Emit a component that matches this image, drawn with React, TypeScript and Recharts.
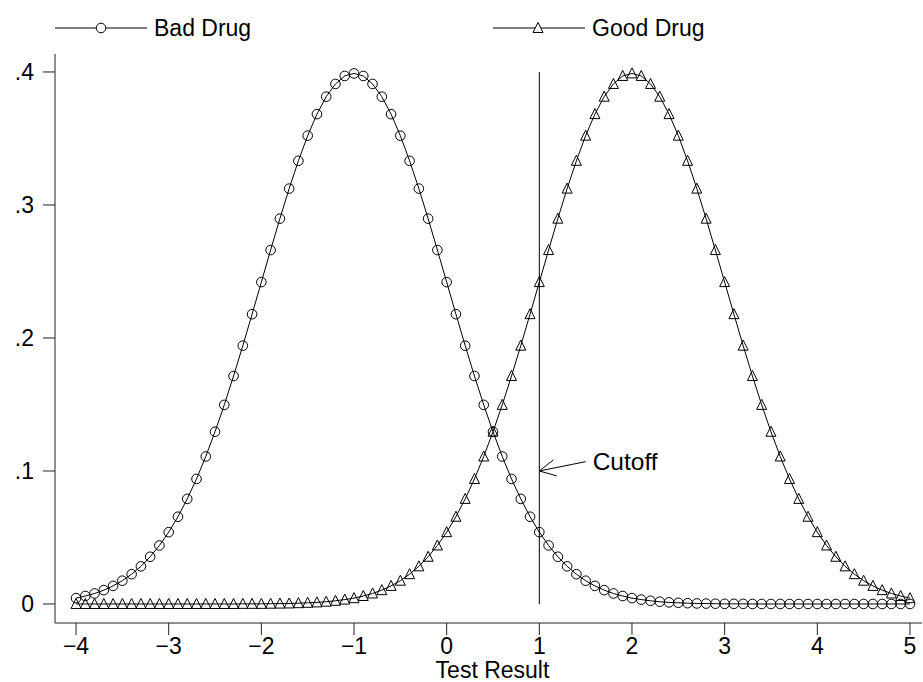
import { Line, LineChart, ReferenceLine, XAxis, YAxis } from 'recharts';

const FONT = '"Liberation Sans", Arial, Helvetica, sans-serif';

const testResults = [
  -4, -3.9, -3.8, -3.7, -3.6, -3.5, -3.4, -3.3, -3.2, -3.1,
  -3, -2.9, -2.8, -2.7, -2.6, -2.5, -2.4, -2.3, -2.2, -2.1,
  -2, -1.9, -1.8, -1.7, -1.6, -1.5, -1.4, -1.3, -1.2, -1.1,
  -1, -0.9, -0.8, -0.7, -0.6, -0.5, -0.4, -0.3, -0.2, -0.1,
  0, 0.1, 0.2, 0.3, 0.4, 0.5, 0.6, 0.7, 0.8, 0.9,
  1, 1.1, 1.2, 1.3, 1.4, 1.5, 1.6, 1.7, 1.8, 1.9,
  2, 2.1, 2.2, 2.3, 2.4, 2.5, 2.6, 2.7, 2.8, 2.9,
  3, 3.1, 3.2, 3.3, 3.4, 3.5, 3.6, 3.7, 3.8, 3.9,
  4, 4.1, 4.2, 4.3, 4.4, 4.5, 4.6, 4.7, 4.8, 4.9,
  5,
];

const badDrug = [
  0.0044, 0.006, 0.0079, 0.0104, 0.0136, 0.0175, 0.0224, 0.0283, 0.0355, 0.044,
  0.054, 0.0656, 0.079, 0.094, 0.1109, 0.1295, 0.1497, 0.1714, 0.1942, 0.2179,
  0.242, 0.2661, 0.2897, 0.3123, 0.3332, 0.3521, 0.3683, 0.3814, 0.391, 0.397,
  0.3989, 0.397, 0.391, 0.3814, 0.3683, 0.3521, 0.3332, 0.3123, 0.2897, 0.2661,
  0.242, 0.2179, 0.1942, 0.1714, 0.1497, 0.1295, 0.1109, 0.094, 0.079, 0.0656,
  0.054, 0.044, 0.0355, 0.0283, 0.0224, 0.0175, 0.0136, 0.0104, 0.0079, 0.006,
  0.0044, 0.0033, 0.0024, 0.0017, 0.0012, 0.0009, 0.0006, 0.0004, 0.0003, 0.0002,
  0.0001, 0.0001, 0.0001, 0, 0, 0, 0, 0, 0, 0,
  0, 0, 0, 0, 0, 0, 0, 0, 0, 0,
  0,
];

const goodDrug = [
  0, 0, 0, 0, 0, 0, 0, 0, 0, 0,
  0, 0, 0, 0, 0, 0, 0, 0, 0.0001, 0.0001,
  0.0001, 0.0002, 0.0003, 0.0004, 0.0006, 0.0009, 0.0012, 0.0017, 0.0024, 0.0033,
  0.0044, 0.006, 0.0079, 0.0104, 0.0136, 0.0175, 0.0224, 0.0283, 0.0355, 0.044,
  0.054, 0.0656, 0.079, 0.094, 0.1109, 0.1295, 0.1497, 0.1714, 0.1942, 0.2179,
  0.242, 0.2661, 0.2897, 0.3123, 0.3332, 0.3521, 0.3683, 0.3814, 0.391, 0.397,
  0.3989, 0.397, 0.391, 0.3814, 0.3683, 0.3521, 0.3332, 0.3123, 0.2897, 0.2661,
  0.242, 0.2179, 0.1942, 0.1714, 0.1497, 0.1295, 0.1109, 0.094, 0.079, 0.0656,
  0.054, 0.044, 0.0355, 0.0283, 0.0224, 0.0175, 0.0136, 0.0104, 0.0079, 0.006,
  0.0044,
];

const xTicks = [-4, -3, -2, -1, 0, 1, 2, 3, 4, 5];
const yTicks = [0, 0.1, 0.2, 0.3, 0.4];

const cutoff = 1;
const cutoffTop = 0.4;
const cutoffLabel = 'Cutoff';
const arrowFrom = { x: 1.5, y: 0.107 };
const arrowTo = { x: 1, y: 0.1 };

const data = testResults.map((x, i) => ({ x, bad: badDrug[i], good: goodDrug[i] }));

const AXIS = '#222';
const FS = 23;

function CircleDot(props: any) {
  const { cx, cy, index } = props;
  if (cx == null || cy == null) return null;
  return <circle key={`c${index}`} cx={cx} cy={cy} r={4.8} fill="none" stroke="#000" strokeWidth={1} />;
}

function TriangleDot(props: any) {
  const { cx, cy, index } = props;
  if (cx == null || cy == null) return null;
  const pts = `${cx},${cy - 5.5} ${cx + 5},${cy + 4.5} ${cx - 5},${cy + 4.5}`;
  return <polygon key={`t${index}`} points={pts} fill="none" stroke="#000" strokeWidth={1} />;
}

// shaft + open arrowhead at the cutoff line, label sits past the tail
function ArrowShape(props: any) {
  const { x1, y1, x2, y2 } = props;
  if ([x1, y1, x2, y2].some((v) => v == null || Number.isNaN(v))) return <g />;
  const ang = Math.atan2(y1 - y2, x1 - x2);
  const len = 18;
  const spread = (27 * Math.PI) / 180;
  const hx1 = x2 + len * Math.cos(ang - spread);
  const hy1 = y2 + len * Math.sin(ang - spread);
  const hx2 = x2 + len * Math.cos(ang + spread);
  const hy2 = y2 + len * Math.sin(ang + spread);
  return (
    <g>
      <line x1={x1} y1={y1} x2={x2} y2={y2} stroke="#000" strokeWidth={1} />
      <line x1={x2} y1={y2} x2={hx1} y2={hy1} stroke="#000" strokeWidth={1} />
      <line x1={x2} y1={y2} x2={hx2} y2={hy2} stroke="#000" strokeWidth={1} />
      <text x={x1 + 7} y={y1} dominantBaseline="central" fontSize={24.5} fill="#000" fontFamily={FONT}>
        {cutoffLabel}
      </text>
    </g>
  );
}

const legendItems = [
  { name: 'Bad Drug', left: 55, kind: 'circle' },
  { name: 'Good Drug', left: 493, kind: 'triangle' },
];

function ChartLegend() {
  return (
    <div style={{ position: 'absolute', left: 0, top: 0, width: 923, height: 54 }}>
      {legendItems.map((it) => (
        <div key={it.name} style={{ position: 'absolute', left: it.left, top: 14, display: 'flex', alignItems: 'center' }}>
          <svg width={92} height={28} style={{ display: 'block' }}>
            <line x1={0} y1={14} x2={92} y2={14} stroke="#000" strokeWidth={1} />
            {it.kind === 'circle' ? (
              <circle cx={46} cy={14} r={4.8} fill="#fff" stroke="#000" strokeWidth={1} />
            ) : (
              <polygon points="45,8.5 50,18.5 40,18.5" fill="#fff" stroke="#000" strokeWidth={1} />
            )}
          </svg>
          <span style={{ marginLeft: 7, fontSize: FS, color: '#000', fontFamily: FONT, lineHeight: '28px' }}>{it.name}</span>
        </div>
      ))}
    </div>
  );
}

export default function App() {
  return (
    <div style={{ position: 'absolute', left: 0, top: 0, width: 923, height: 682, background: '#fff', fontFamily: FONT }}>
      <LineChart width={923} height={682} data={data} margin={{ top: 54, right: 1, bottom: 0, left: 0 }}>
        <XAxis
          dataKey="x"
          type="number"
          domain={[-4.227, 5.13]}
          allowDataOverflow
          ticks={xTicks}
          interval={0}
          height={59}
          tickSize={12}
          tickMargin={3}
          stroke={AXIS}
          tick={{ fill: '#000', fontSize: FS, fontFamily: FONT }}
          tickFormatter={(v: number) => (v < 0 ? `\u2212${-v}` : `${v}`)}
          label={{ value: 'Test Result', position: 'insideBottom', offset: 4, dx: 4, fontSize: FS, fill: '#000', fontFamily: FONT }}
        />
        <YAxis
          type="number"
          domain={[-0.0143, 0.4135]}
          allowDataOverflow
          ticks={yTicks}
          interval={0}
          width={55}
          tickSize={12}
          tickMargin={9}
          stroke={AXIS}
          tick={{ fill: '#000', fontSize: FS, fontFamily: FONT }}
          tickFormatter={(v: number) => (v === 0 ? '0' : v.toFixed(1).replace(/^0/, ''))}
        />
        <ReferenceLine
          segment={[{ x: cutoff, y: 0 }, { x: cutoff, y: cutoffTop }]}
          stroke="#000"
          strokeWidth={1}
        />
        <ReferenceLine segment={[arrowFrom, arrowTo]} shape={ArrowShape} />
        <Line
          type="linear"
          dataKey="bad"
          name="Bad Drug"
          stroke="#000"
          strokeWidth={1}
          dot={CircleDot}
          activeDot={false}
          isAnimationActive={false}
        />
        <Line
          type="linear"
          dataKey="good"
          name="Good Drug"
          stroke="#000"
          strokeWidth={1}
          dot={TriangleDot}
          activeDot={false}
          isAnimationActive={false}
        />
      </LineChart>
      <ChartLegend />
    </div>
  );
}
